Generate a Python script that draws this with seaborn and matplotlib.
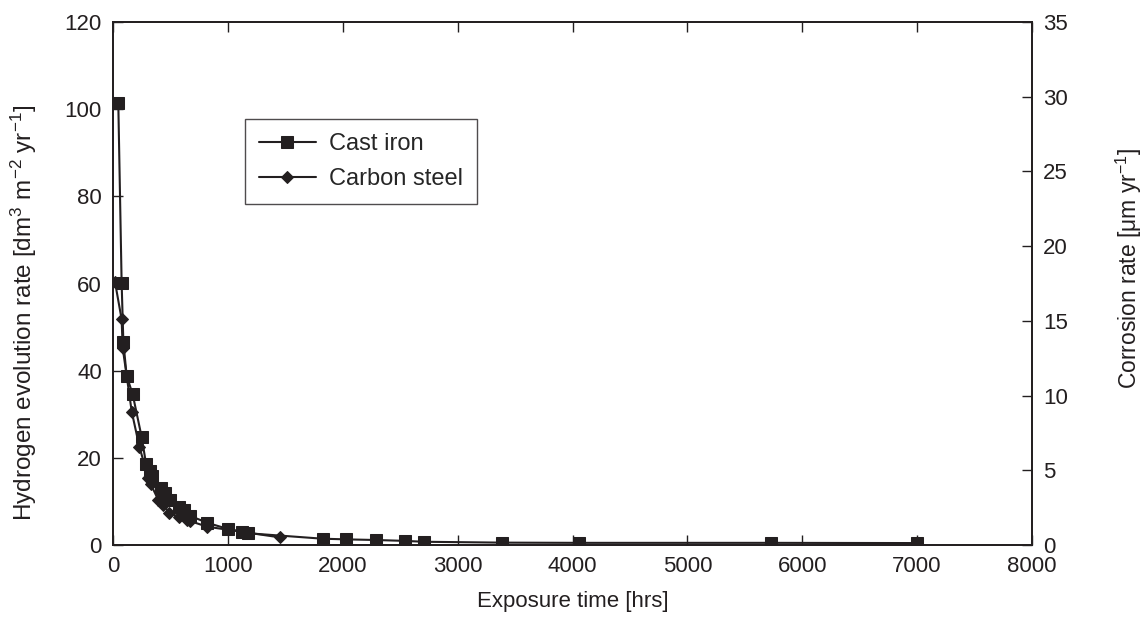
import matplotlib
matplotlib.use("Agg")
import matplotlib.pyplot as plt
import seaborn as sns
import pandas as pd

# Cast iron (hydrogen evolution rate, dm3 m-2 yr-1)
cast_time = [46, 75, 90, 119, 171, 250, 287, 322, 337, 418, 453, 496, 574, 618, 670,
             821, 998, 1120, 1178, 1825, 2028, 2293, 2540, 2705, 3382, 4055, 5726, 7000]
cast_rate = [101.4, 60.2, 46.6, 38.8, 34.6, 24.7, 18.7, 17.0, 15.8, 13.0, 11.9, 10.3, 8.8, 8.0, 6.7,
             5.1, 3.7, 3.1, 2.7, 1.45, 1.3, 1.15, 0.95, 0.75, 0.55, 0.5, 0.5, 0.45]

# Carbon steel
steel_time = [17, 75, 84, 163, 229, 308, 328, 395, 438, 490, 577, 641, 670, 821, 1453]
steel_rate = [60.4, 51.8, 45.3, 30.6, 22.6, 15.3, 14.0, 10.3, 9.2, 7.4, 6.4, 5.7, 5.5, 4.2, 1.75]

x_ticks = [0, 1000, 2000, 3000, 4000, 5000, 6000, 7000, 8000]
y_ticks = [0, 20, 40, 60, 80, 100, 120]
y2_ticks = [0, 5, 10, 15, 20, 25, 30, 35]

sns.set_theme(style="ticks")
plt.rcParams['font.family'] = ['Liberation Sans', 'DejaVu Sans']
plt.rcParams['mathtext.default'] = 'regular'

ink = "#231f20"
fig = plt.figure(figsize=(11.45, 6.29), dpi=100)
ax = fig.add_axes([0.0987, 0.1335, 0.8026, 0.8315])

df_cast = pd.DataFrame({"t": cast_time, "r": cast_rate})
df_steel = pd.DataFrame({"t": steel_time, "r": steel_rate})

sns.lineplot(data=df_cast, x="t", y="r", ax=ax, sort=False, color=ink, lw=1.5,
             marker="s", markersize=8, markeredgecolor=ink, markerfacecolor=ink,
             label="Cast iron")
sns.lineplot(data=df_steel, x="t", y="r", ax=ax, sort=False, color=ink, lw=1.5,
             marker="D", markersize=6.5, markeredgecolor=ink, markerfacecolor=ink,
             label="Carbon steel")

ax.set_xlim(0, 8000)
ax.set_ylim(0, 120)
ax.set_xticks(x_ticks)
ax.set_yticks(y_ticks)
fs = 16
ax.tick_params(axis="both", direction="in", length=7, width=1, colors=ink,
               labelsize=fs, top=True, labeltop=False, pad=8)
ax.tick_params(axis="y", right=False)
for s in ax.spines.values():
    s.set_color(ink)
    s.set_linewidth(1.3)

ax.set_xlabel("Exposure time [hrs]", fontsize=fs, color=ink, labelpad=10)
ax.set_ylabel("Hydrogen evolution rate [dm$^3$ m$^{-2}$ yr$^{-1}$]", fontsize=17.5, color=ink)
ax.yaxis.set_label_coords(-0.081, 0.443)

ax2 = ax.twinx()
ax2.set_ylim(0, 35)
ax2.set_yticks(y2_ticks)
ax2.tick_params(axis="y", direction="in", length=7, width=1, colors=ink, labelsize=fs, pad=8)
ax2.set_ylabel("Corrosion rate [\u03bcm yr$^{-1}$]", fontsize=16.5, color=ink)
ax2.yaxis.set_label_coords(1.089, 0.528)
for s in ax2.spines.values():
    s.set_color(ink)
    s.set_linewidth(1.3)

leg = ax.legend(loc="upper left", bbox_to_anchor=(0.1436, 0.815), fontsize=17,
                frameon=True, fancybox=False, edgecolor=ink, handlelength=2.4,
                borderpad=0.6, labelspacing=0.55, handletextpad=0.55, borderaxespad=0)
leg.get_frame().set_linewidth(1.0)

fig.savefig("out.png", dpi=100)
